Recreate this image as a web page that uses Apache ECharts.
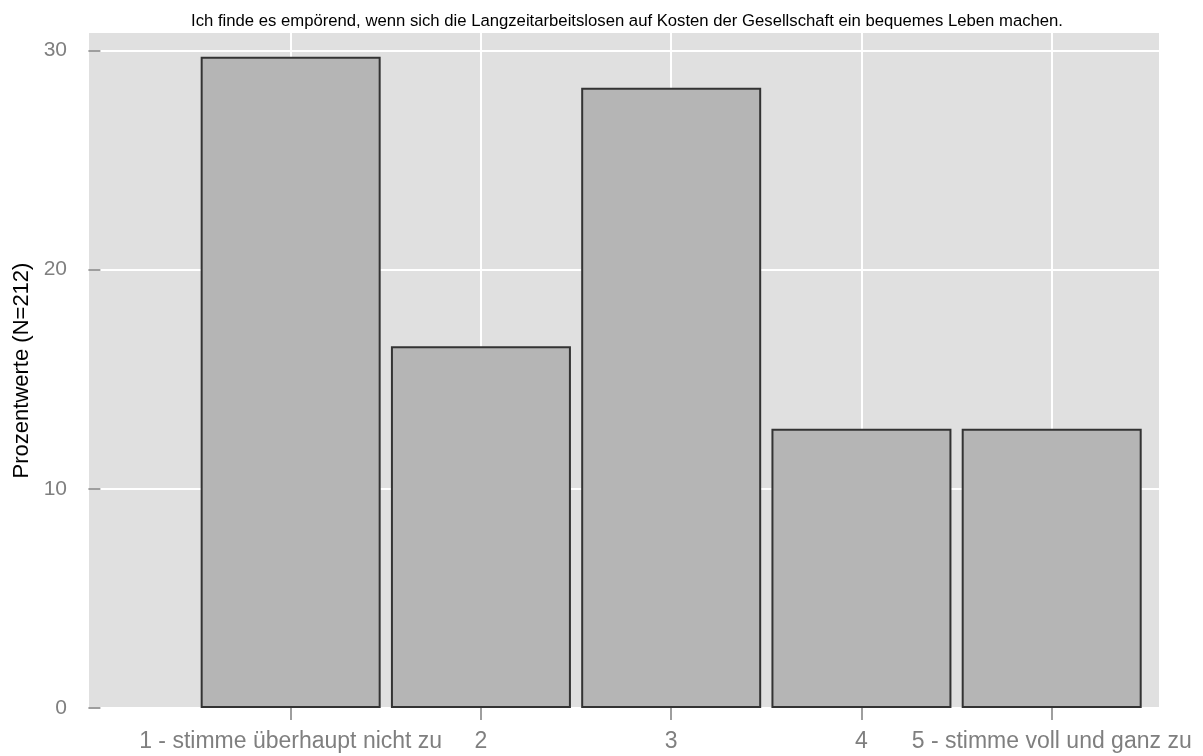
<!DOCTYPE html>
<html>
<head>
<meta charset="utf-8">
<script src="https://cdn.jsdelivr.net/npm/echarts@6/dist/echarts.min.js"></script>
<style>html,body{margin:0;padding:0;background:#fff}#c{width:1203px;height:756px}</style>
</head>
<body>
<div id="c"></div>
<script>
var titleText = 'Ich finde es empörend, wenn sich die Langzeitarbeitslosen auf Kosten der Gesellschaft ein bequemes Leben machen.';
var categoryPositions = [1, 2, 3, 4, 5];
var categoryLabels = ['1 - stimme überhaupt nicht zu', '2', '3', '4', '5 - stimme voll und ganz zu'];
var percentValues = [29.72, 16.51, 28.30, 12.74, 12.74];
var yTicks = [0, 10, 20, 30];

var font = 'Liberation Sans, Arial, sans-serif';
var labelMap = {};
categoryPositions.forEach(function (p, i) { labelMap[p] = categoryLabels[i]; });

var chart = echarts.init(document.getElementById('c'), null, {renderer: 'canvas'});
chart.setOption({
  animation: false,
  backgroundColor: '#ffffff',
  title: {
    text: titleText,
    left: 622,
    top: 8,
    textAlign: 'center',
    textStyle: {fontFamily: font, fontSize: 16.7, fontWeight: 'normal', color: '#000'}
  },
  grid: {
    left: 89, right: 44, top: 33, bottom: 48,
    show: true, backgroundColor: '#E0E0E0', borderWidth: 0
  },
  xAxis: {
    type: 'value',
    min: -0.06,
    max: 5.564,
    axisLine: {show: false},
    axisTick: {show: true, length: 12, customValues: categoryPositions, lineStyle: {color: '#7F7F7F', width: 1.5}},
    axisLabel: {
      customValues: categoryPositions,
      margin: 22,
      fontFamily: font, fontSize: 23, color: '#7F7F7F',
      formatter: function (v) { return labelMap[v] !== undefined ? labelMap[v] : ''; }
    },
    splitLine: {show: true, customValues: categoryPositions, lineStyle: {color: '#ffffff', width: 2}}
  },
  yAxis: {
    type: 'value',
    min: 0,
    max: 30.8,
    interval: 10,
    name: 'Prozentwerte (N=212)',
    nameLocation: 'middle',
    nameGap: 52,
    nameTextStyle: {fontFamily: font, fontSize: 22, color: '#000'},
    axisLine: {show: false},
    axisTick: {show: true, length: 12, customValues: yTicks, lineStyle: {color: '#7F7F7F', width: 1.5}},
    axisLabel: {customValues: yTicks, margin: 22, fontFamily: font, fontSize: 21, color: '#7F7F7F'},
    splitLine: {show: true, lineStyle: {color: '#ffffff', width: 2}}
  },
  series: [{
    type: 'bar',
    barWidth: 180,
    data: categoryPositions.map(function (p, i) { return [p, percentValues[i]]; }),
    itemStyle: {color: '#B5B5B5', borderColor: '#333333', borderWidth: 2}
  }]
});
</script>
</body>
</html>
